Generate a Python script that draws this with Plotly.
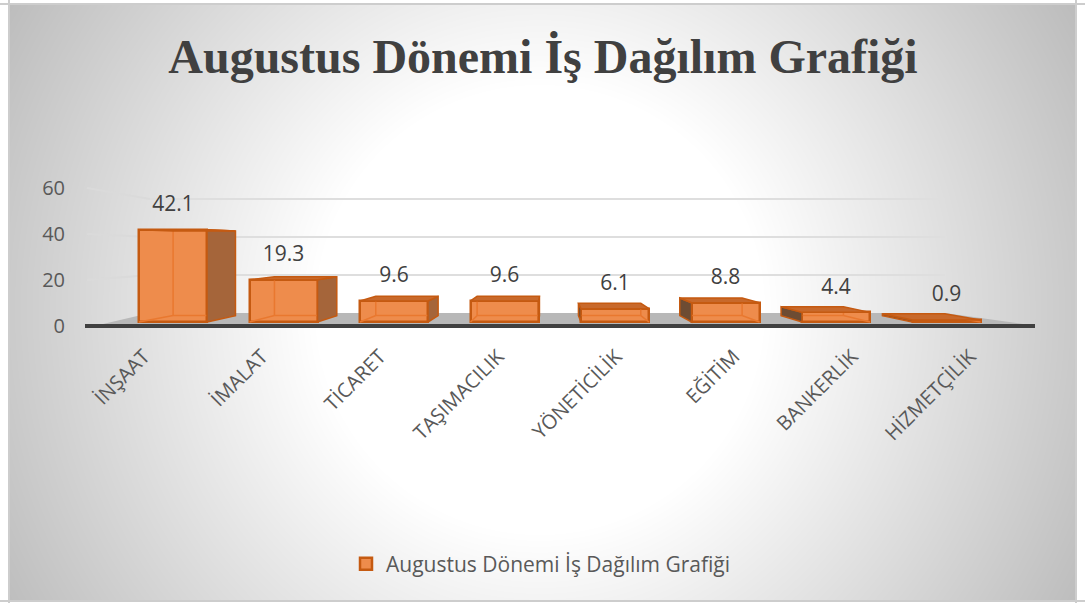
import base64, struct, zlib
import numpy as np
import plotly.graph_objects as go

# ---- data ----
categories = ["İNŞAAT", "İMALAT", "TİCARET", "TAŞIMACILIK", "YÖNETİCİLİK", "EĞİTİM", "BANKERLİK", "HİZMETÇİLİK"]
values = [42.1, 19.3, 9.6, 9.6, 6.1, 8.8, 4.4, 0.9]
value_labels = ["42.1", "19.3", "9.6", "9.6", "6.1", "8.8", "4.4", "0.9"]
y_ticks = [0, 20, 40, 60]
series_name = "Augustus Dönemi İş Dağılım Grafiği"
title_text = "Augustus Dönemi İş Dağılım Grafiği"

# ---- layout constants (pixels of the 1085x603 page) ----
W, H = 1085, 603
PX_L, PX_R, PX_T, PX_B = 85, 1035, 120, 340      # plot area
STEP, X0 = 110.5, 173                            # category spacing, first centre
BAR_W = 68 / STEP
TICK_SCALE, TICK_ZERO = 2.3, 326                 # labelled axis
BAR_SCALE, BAR_ZERO = 2.19, 322                  # front plane of the bars
WALL_SCALE, WALL_ZERO = 1.9, 313                 # back wall
VX, VY, K = 550, 245, 0.083                      # vanishing point and depth
FONT = "Open Sans"
TXT = "#595959"


def data_x(px):
    return (px - X0) / STEP


def base_y(py):
    return (TICK_ZERO - py) / TICK_SCALE


def bar_y(py):
    return (BAR_ZERO - py) / BAR_SCALE


def back(px, py):
    return px + K * (VX - px), py + K * (VY - py)


def background_png():
    x, y = np.meshgrid(np.arange(W) + 0.5, np.arange(H) + 0.5)
    r = np.hypot(x - 540, y - 310)
    g = np.clip(255 - 0.17 * (r - 225), 0, 255)
    g = np.where((x < 8) | (x > 1077) | (y < 3) | (y > 602), 255, g)
    edge = ((x >= 8) & (x < 10)) | ((x > 1075) & (x <= 1077)) | ((y >= 3) & (y < 5)) | ((y > 600) & (y <= 602))
    g = np.where(edge, 205, g).astype(np.uint8)
    raw = b"".join(b"\x00" + row.tobytes() for row in g)

    def chunk(tag, payload):
        return struct.pack(">I", len(payload)) + tag + payload + struct.pack(">I", zlib.crc32(tag + payload))

    png = b"\x89PNG\r\n\x1a\n" + chunk(b"IHDR", struct.pack(">IIBBBBB", W, H, 8, 0, 0, 0, 0)) \
        + chunk(b"IDAT", zlib.compress(raw, 9)) + chunk(b"IEND", b"")
    return "data:image/png;base64," + base64.b64encode(png).decode()


fig = go.Figure()

# floor
floor_px = [(103, 324), (150, WALL_ZERO), (945, WALL_ZERO), (1023, 324)]
fig.add_trace(go.Scatter(x=[data_x(p[0]) for p in floor_px], y=[base_y(p[1]) for p in floor_px],
                         mode="lines", fill="toself", fillcolor="#B8B8B8", line=dict(width=0),
                         hoverinfo="skip", showlegend=False, yaxis="y"))

# walls
wall_x, wall_y, side_x, side_y = [], [], [], []
for v in y_ticks[1:]:
    wy = WALL_ZERO - v * WALL_SCALE
    wall_x += [data_x(150), data_x(945), None]
    wall_y += [base_y(wy), base_y(wy), None]
    side_x += [data_x(87), data_x(150), None]
    side_y += [v, base_y(wy), None]
fig.add_trace(go.Scatter(x=wall_x, y=wall_y, mode="lines", line=dict(color="#DEDEDE", width=1.8),
                         hoverinfo="skip", showlegend=False, yaxis="y"))
fig.add_trace(go.Scatter(x=side_x, y=side_y, mode="lines", line=dict(color="#DADADA", width=1.8),
                         hoverinfo="skip", showlegend=False, yaxis="y"))

# front faces
fig.add_trace(go.Bar(x=list(range(len(values))), y=values, width=BAR_W, name=series_name,
                     marker=dict(color="#EE8C4C", line=dict(color="#C55A11", width=2.5)),
                     yaxis="y2", hoverinfo="skip"))

# depth faces derived from the values
right_fx, right_fy, left_fx, left_fy, top_fx, top_fy, inner_x, inner_y = [], [], [], [], [], [], [], []
for i, v in enumerate(values):
    cx = X0 + i * STEP
    half = BAR_W * STEP / 2
    l, r = cx - half, cx + half
    top = BAR_ZERO - v * BAR_SCALE
    bl, bt_l = back(l, top)
    br, bt_r = back(r, top)
    _, bb = back(l, BAR_ZERO)
    poly = [(l, top), (bl, bt_l), (br, bt_r), (r, top), (l, top)]
    top_fx += [data_x(p[0]) for p in poly] + [None]
    top_fy += [bar_y(p[1]) for p in poly] + [None]
    if r < VX:
        poly = [(r, top), (br, bt_r), (br, bb), (r, BAR_ZERO), (r, top)]
        inner_x += [data_x(bl), data_x(bl), None, data_x(l), data_x(bl), data_x(br), None]
        inner_y += [bar_y(bt_l), bar_y(bb), None, bar_y(BAR_ZERO), bar_y(bb), bar_y(bb), None]
        right_fx += [data_x(p[0]) for p in poly] + [None]
        right_fy += [bar_y(p[1]) for p in poly] + [None]
    elif l > VX:
        poly = [(l, top), (bl, bt_l), (bl, bb), (l, BAR_ZERO), (l, top)]
        inner_x += [data_x(br), data_x(br), None, data_x(r), data_x(br), data_x(bl), None]
        inner_y += [bar_y(bt_r), bar_y(bb), None, bar_y(BAR_ZERO), bar_y(bb), bar_y(bb), None]
        left_fx += [data_x(p[0]) for p in poly] + [None]
        left_fy += [bar_y(p[1]) for p in poly] + [None]

fig.add_trace(go.Scatter(x=inner_x, y=inner_y, mode="lines", line=dict(color="#E9782F", width=1.5),
                         hoverinfo="skip", showlegend=False, yaxis="y2"))
fig.add_trace(go.Scatter(x=right_fx, y=right_fy, mode="lines", fill="toself", fillcolor="#A5653A",
                         line=dict(color="#C55A11", width=1.5), hoverinfo="skip", showlegend=False, yaxis="y2"))
fig.add_trace(go.Scatter(x=left_fx, y=left_fy, mode="lines", fill="toself", fillcolor="#6E4C33",
                         line=dict(color="#C55A11", width=1.5), hoverinfo="skip", showlegend=False, yaxis="y2"))
fig.add_trace(go.Scatter(x=top_fx, y=top_fy, mode="lines", fill="toself", fillcolor="#C8692B",
                         line=dict(color="#C55A11", width=1.5), hoverinfo="skip", showlegend=False, yaxis="y2"))

# data labels
fig.add_trace(go.Scatter(x=list(range(len(values))), y=[v + 24 / BAR_SCALE for v in values], mode="text",
                         text=value_labels, textposition="middle center",
                         textfont=dict(family=FONT, size=21, color="#404040"),
                         hoverinfo="skip", showlegend=False, yaxis="y2"))

fig.update_layout(
    width=W, height=H, autosize=False,
    margin=dict(l=0, r=0, t=0, b=0),
    paper_bgcolor="white", plot_bgcolor="rgba(0,0,0,0)",
    font=dict(family=FONT, color=TXT),
    images=[dict(source=background_png(), xref="paper", yref="paper", x=0, y=1, sizex=1, sizey=1,
                 xanchor="left", yanchor="top", sizing="stretch", layer="below")],
    title=dict(text=f"<b>{title_text}</b>", x=543 / W, xanchor="center", y=1 - 56 / H, yanchor="middle",
               font=dict(family="Liberation Serif", size=48, color="#404040")),
    showlegend=True,
    legend=dict(x=541 / W, y=1 - 564 / H, xanchor="center", yanchor="middle", orientation="h",
                bgcolor="rgba(0,0,0,0)", font=dict(family=FONT, size=21, color=TXT)),
    bargap=0,
    xaxis=dict(domain=[PX_L / W, PX_R / W], range=[data_x(PX_L), data_x(PX_R)], anchor="y",
               tickmode="array", tickvals=[data_x(144 + 118 * i) for i in range(len(categories))],
               ticktext=categories, tickangle=-45, tickfont=dict(family=FONT, size=20, color=TXT),
               showgrid=False, zeroline=False, showline=False, ticks=""),
    yaxis=dict(domain=[1 - PX_B / H, 1 - PX_T / H], range=[base_y(PX_B), base_y(PX_T)],
               tickmode="array", tickvals=y_ticks, tickfont=dict(family=FONT, size=20, color=TXT),
               ticks="outside", ticklen=15, tickcolor="rgba(0,0,0,0)",
               showgrid=False, showline=False, zeroline=True, zerolinecolor="#404040", zerolinewidth=3.5),
    yaxis2=dict(overlaying="y", range=[bar_y(PX_B), bar_y(PX_T)], showgrid=False, zeroline=False,
                showline=False, showticklabels=False, ticks=""),
)

fig.write_html("out.html", config={"displayModeBar": False}, post_script="document.body.style.margin='0';")
